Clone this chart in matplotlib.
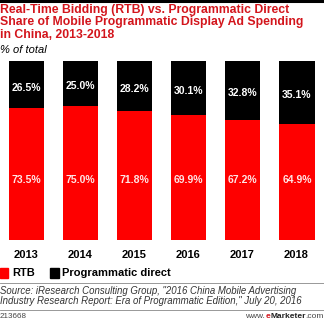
import numpy as np
import matplotlib.pyplot as plt

years = ['2013', '2014', '2015', '2016', '2017', '2018']
rtb = [73.5, 75.0, 71.8, 69.9, 67.2, 64.9]
direct = [26.5, 25.0, 28.2, 30.1, 32.8, 35.1]

plt.rcParams['font.family'] = ['Liberation Sans', 'DejaVu Sans']

W, H = 324, 322
fig = plt.figure(figsize=(W / 100, H / 100), dpi=100)

def fy(px):
    return 1 - px / H

# top rule
fig.add_artist(plt.Line2D([0, 1], [fy(1), fy(1)], color='black', lw=2.2))

title = ('Real-Time Bidding (RTB) vs. Programmatic Direct\n'
         'Share of Mobile Programmatic Display Ad Spending\n'
         'in China, 2013-2018')
fig.text(0.0, fy(4), title, color='#d3151c', fontsize=8.8, fontweight='bold',
         va='top', ha='left', linespacing=1.05)
fig.text(0.0, fy(50), '% of total', fontsize=8, style='italic', va='center')

ax = fig.add_axes([0, fy(240), 1, (240 - 61) / H])
x = np.arange(len(years))
ax.bar(x, rtb, width=0.65, color='#fe0000')
ax.bar(x, direct, bottom=rtb, width=0.65, color='black')
for i in range(len(years)):
    ax.text(x[i], 33.5, f'{rtb[i]:.1f}%', color='#ffe5e5', fontsize=7.5,
            fontweight='bold', ha='center', va='center')
    ax.text(x[i], 100 - direct[i] / 2 - 1.7, f'{direct[i]:.1f}%', color='white',
            fontsize=7.5, fontweight='bold', ha='center', va='center')
ax.set_xlim(-0.49, 5.5)
ax.set_ylim(0, 100)
ax.axis('off')

for i, yr in enumerate(years):
    fig.text((26.5 + 54 * i) / W, fy(255), yr, fontsize=8, fontweight='bold',
             ha='center', va='center')

# legend
fig.add_artist(plt.Rectangle((0, fy(278)), 8 / W, 10 / H, color='#fe0000'))
fig.text(12 / W, fy(273), 'RTB', fontsize=8, fontweight='bold', va='center')
fig.add_artist(plt.Rectangle((50 / W, fy(278)), 9 / W, 10 / H, color='black'))
fig.text(62 / W, fy(273), 'Programmatic direct', fontsize=8, fontweight='bold', va='center')

fig.add_artist(plt.Line2D([0, 1], [fy(283), fy(283)], color='#888888', lw=0.6))
fig.text(0.0, fy(286), 'Source: iResearch Consulting Group, "2016 China Mobile Advertising\n'
         'Industry Research Report: Era of Programmatic Edition," July 20, 2016',
         fontsize=6.9, style='italic', color='#333333', va='top', linespacing=1.02)
fig.add_artist(plt.Line2D([0, 1], [fy(310), fy(310)], color='#888888', lw=0.6))
fig.text(0.0, fy(317), '213668', fontsize=5.8, color='#444444', va='center')

# eMarketer mark, pieces placed one after another from the right edge
pieces = [('.com', '#444444', 'normal'), ('Marketer', '#222222', 'bold'),
          ('e', '#d3151c', 'bold'), ('www.', '#444444', 'normal')]
r = fig.canvas.get_renderer()
xr = 1.0
for s, c, w in pieces:
    t = fig.text(xr, fy(317), s, fontsize=6, color=c, fontweight=w,
                 va='center', ha='right')
    xr -= t.get_window_extent(r).width / W

fig.savefig('out.png', dpi=100)
